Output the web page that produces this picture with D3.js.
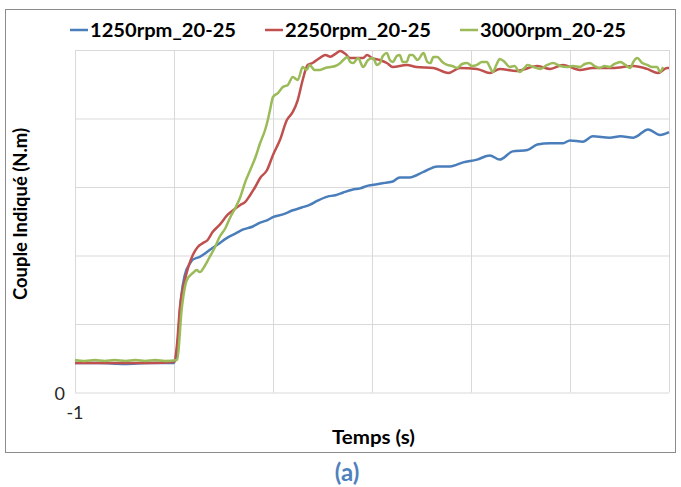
<!DOCTYPE html>
<html>
<head>
<meta charset="utf-8">
<script src="https://cdn.jsdelivr.net/npm/d3@7"></script>
<style>
  body { margin: 0; background: #fff; }
  svg text { font-family: Lato, "Open Sans", sans-serif; }
</style>
</head>
<body>
<div id="chart"></div>
<script>
const W = 681
const H = 487

const seriesNames = ['1250rpm_20-25', '2250rpm_20-25', '3000rpm_20-25']
const seriesColors = ['#4a7ebb', '#c0504d', '#9bbb59']

const xTicks = [-1, 0, 1, 2, 3, 4, 5]
const yTicks = [0, 50, 100, 150, 200, 250]

// 1250 rpm
const t1250 = [-1, -0.75, -0.5, -0.25, 0, 0.04, 0.07, 0.11, 0.16, 0.19, 0.26, 0.36, 0.44, 0.54, 0.62, 0.7, 0.79, 0.87, 0.95, 1,
  1.1, 1.2, 1.29, 1.37, 1.45, 1.55, 1.63, 1.71, 1.8, 1.88, 1.96, 2.05, 2.13, 2.21, 2.28, 2.38, 2.52, 2.66, 2.79, 2.92,
  3.06, 3.19, 3.29, 3.42, 3.57, 3.67, 3.8, 3.93, 4, 4.13, 4.23, 4.4, 4.51, 4.64, 4.79, 4.91, 5]
const v1250 = [21.5, 21.5, 20.8, 21.5, 21.5, 38, 68, 86, 94, 97, 99, 104, 108, 113, 116, 119, 121, 124, 126, 128,
  130, 133, 135, 137, 140, 143, 144, 146, 148, 149, 151, 152, 153, 154, 157, 157, 161, 165, 165, 168,
  170, 173, 170, 176, 177, 181, 182, 182, 184, 183, 187, 186, 187, 186, 192, 188, 190]

// 2250 rpm
const t2250 = [-1, -0.75, -0.5, -0.25, 0, 0.03, 0.06, 0.11, 0.19, 0.24, 0.29, 0.34, 0.39, 0.46, 0.54, 0.6, 0.67, 0.72, 0.77, 0.82,
  0.87, 0.94, 1, 1.07, 1.14, 1.2, 1.25, 1.3, 1.35, 1.4, 1.47, 1.53, 1.58, 1.63, 1.68, 1.73, 1.78, 1.85, 1.91, 1.95,
  2, 2.08, 2.15, 2.21, 2.35, 2.45, 2.62, 2.77, 2.89, 3.06, 3.19, 3.29, 3.46, 3.67, 3.8, 3.93, 4.1, 4.23, 4.43, 4.64,
  4.78, 4.89, 4.98, 5]
const v2250 = [21.5, 21.5, 21.5, 21.5, 22.3, 34.7, 62.4, 82.1, 100.4, 106.2, 109, 111.3, 117.1, 122.3, 129.6, 133.2, 136.9, 139.1, 144.2, 150,
  156.6, 162.4, 173.4, 184.3, 198.9, 204.8, 213.5, 228.1, 239.1, 240.5, 244.1, 246.4, 245, 247.2, 249.3, 247.2, 244.1, 244.1, 244.1, 246.4,
  244.1, 242.7, 240.5, 237.6, 239.1, 237.6, 236.9, 233.2, 236.9, 236.2, 233.2, 236.2, 234.7, 238.3, 236.2, 239.1, 235.4, 236.9, 236.9, 238.3,
  236.2, 233.2, 236.9, 236.9]

// 3000 rpm
const t3000 = [-1, -0.9, -0.8, -0.7, -0.6, -0.49, -0.39, -0.29, -0.19, -0.09, 0.03, 0.08, 0.13, 0.19, 0.23, 0.26, 0.31, 0.36, 0.41, 0.46,
  0.52, 0.57, 0.62, 0.67, 0.72, 0.77, 0.82, 0.87, 0.92, 0.94, 0.97, 1, 1.05, 1.1, 1.15, 1.2, 1.25, 1.3, 1.34, 1.37,
  1.42, 1.47, 1.53, 1.58, 1.63, 1.68, 1.71, 1.75, 1.78, 1.81, 1.86, 1.91, 1.96, 2.01, 2.05, 2.08, 2.11, 2.15, 2.18, 2.21,
  2.25, 2.28, 2.31, 2.35, 2.38, 2.41, 2.46, 2.52, 2.56, 2.59, 2.62, 2.66, 2.71, 2.76, 2.81, 2.86, 2.91, 2.96, 3.01, 3.06,
  3.11, 3.16, 3.19, 3.22, 3.26, 3.29, 3.34, 3.39, 3.44, 3.49, 3.54, 3.57, 3.63, 3.7, 3.77, 3.83, 3.9, 3.97, 4.03, 4.1,
  4.15, 4.2, 4.25, 4.3, 4.35, 4.4, 4.45, 4.51, 4.56, 4.61, 4.64, 4.68, 4.73, 4.78, 4.83, 4.88, 4.91, 4.94]
const v3000 = [23.7, 23, 23.7, 23, 23.7, 23, 23.7, 23, 23.7, 23, 23.7, 62.4, 82.1, 87.2, 89.4, 87.9, 92.3, 98.9, 105.5, 113.5,
  120.1, 128.1, 134.7, 142.7, 153.7, 162.4, 171.2, 182.1, 191.6, 196.7, 206.2, 215.7, 218.6, 223, 224.5, 230.3, 228.1, 237.6, 235.4, 239.1,
  235.4, 235.4, 236.9, 237.6, 238.3, 240.5, 242.7, 244.9, 241.3, 240.5, 244.1, 237.6, 242.7, 244.1, 239.1, 240.5, 245.6, 247.8, 242.7, 241.3,
  245.6, 246.4, 241.3, 241.3, 246.4, 246.4, 242.7, 247.8, 241.3, 240.5, 244.9, 244.9, 241.3, 239.1, 238.3, 236.9, 239.8, 240.5, 238.3, 239.1,
  241.3, 241.3, 237.6, 234, 239.8, 243.5, 241.3, 237.6, 238.3, 234, 236.9, 239.1, 237.6, 236.2, 239.1, 240.5, 238.3, 237.6, 238.3, 237.6,
  239.8, 240.5, 238.3, 236.9, 238.3, 237.6, 239.8, 241.3, 239.1, 236.9, 241.3, 244.1, 240.5, 239.1, 237.6, 237.6, 234, 237.6]

const seriesT = [t1250, t2250, t3000]
const seriesV = [v1250, v2250, v3000]

const svg = d3.select('#chart')
  .append('svg')
  .attr('width', W)
  .attr('height', H)

// chart frame
svg.append('rect')
  .attr('x', 5.5).attr('y', 9.5)
  .attr('width', 670).attr('height', 443)
  .attr('fill', '#fff')
  .attr('stroke', '#8c8c8c')
  .attr('stroke-width', 1)

const x = d3.scaleLinear().domain([-1, 5]).range([75, 669])
const y = d3.scaleLinear().domain([0, 250]).range([392.5, 50])

// gridlines
const xGrid = svg.append('g')
  .attr('transform', `translate(0, ${y(0)})`)
  .call(d3.axisBottom(x).tickValues(xTicks).tickSize(-(y(0) - y(250))).tickFormat(''))
xGrid.select('.domain').remove()
xGrid.selectAll('line').attr('stroke', '#d9d9d9').attr('stroke-width', 1)

const yGrid = svg.append('g')
  .attr('transform', `translate(${x(-1)}, 0)`)
  .call(d3.axisLeft(y).tickValues(yTicks).tickSize(-(x(5) - x(-1))).tickFormat(''))
yGrid.select('.domain').remove()
yGrid.selectAll('line').attr('stroke', '#d9d9d9').attr('stroke-width', 1)

// only the first tick labels are visible
svg.append('text')
  .attr('x', 65).attr('y', 400)
  .attr('text-anchor', 'end')
  .attr('font-size', 18)
  .attr('fill', '#262626')
  .text(String(yTicks[0]))
svg.append('text')
  .attr('x', x(xTicks[0])).attr('y', 419)
  .attr('text-anchor', 'middle')
  .attr('font-size', 18)
  .attr('fill', '#262626')
  .text(String(xTicks[0]))

// series
const line = d3.line()
  .x(d => x(d[0]))
  .y(d => y(d[1]))
  .curve(d3.curveMonotoneX)

seriesNames.forEach((name, i) => {
  const pts = seriesT[i].map((t, k) => [t, seriesV[i][k]])
  svg.append('path')
    .datum(pts)
    .attr('d', line)
    .attr('fill', 'none')
    .attr('stroke', seriesColors[i])
    .attr('stroke-width', 2.5)
    .attr('stroke-linejoin', 'round')
})

// legend
const legendX = [70, 265, 460]
const legend = svg.append('g')
seriesNames.forEach((name, i) => {
  legend.append('line')
    .attr('x1', legendX[i]).attr('x2', legendX[i] + 18)
    .attr('y1', 30).attr('y2', 30)
    .attr('stroke', seriesColors[i])
    .attr('stroke-width', 2.5)
  legend.append('text')
    .attr('x', legendX[i] + 20).attr('y', 37)
    .attr('font-size', 18)
    .attr('font-weight', 'bold')
    .attr('fill', '#000')
    .attr('textLength', 146)
    .attr('lengthAdjust', 'spacingAndGlyphs')
    .text(name)
})

// axis titles
svg.append('text')
  .attr('transform', 'translate(27, 214) rotate(-90)')
  .attr('text-anchor', 'middle')
  .attr('font-size', 18)
  .attr('font-weight', 'bold')
  .attr('textLength', 172)
  .attr('lengthAdjust', 'spacingAndGlyphs')
  .text('Couple Indiqué (N.m)')

svg.append('text')
  .attr('x', 373.5).attr('y', 444)
  .attr('text-anchor', 'middle')
  .attr('font-size', 18)
  .attr('font-weight', 'bold')
  .attr('textLength', 83)
  .attr('lengthAdjust', 'spacingAndGlyphs')
  .text('Temps (s)')

svg.append('text')
  .attr('x', 347).attr('y', 481)
  .attr('text-anchor', 'middle')
  .attr('font-size', 24)
  .attr('font-weight', 'bold')
  .attr('fill', '#4f81bd')
  .text('(a)')
</script>
</body>
</html>
